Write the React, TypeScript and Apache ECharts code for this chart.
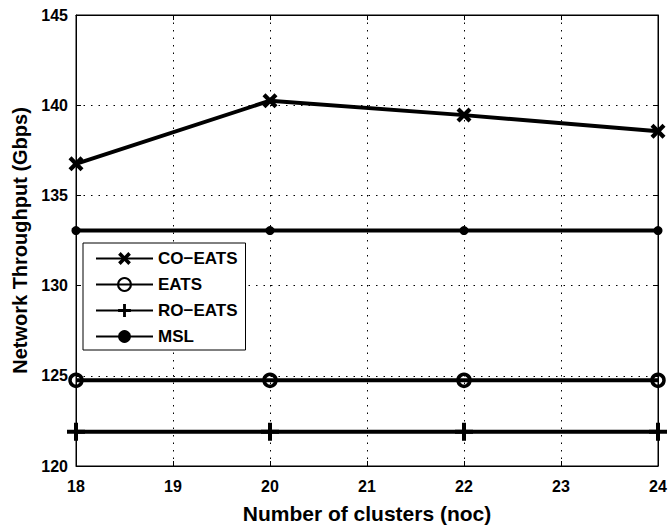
import React, { useEffect, useRef } from "react";
import * as echarts from "echarts";

const clusters = [18, 20, 22, 24];
const coEats = [136.75, 140.25, 139.45, 138.55];
const eats = [124.75, 124.75, 124.75, 124.75];
const roEats = [121.9, 121.9, 121.9, 121.9];
const msl = [133.05, 133.05, 133.05, 133.05];
const seriesNames = ["CO\u2212EATS", "EATS", "RO\u2212EATS", "MSL"];

const FONT = "'Liberation Sans', Arial, Helvetica, sans-serif";
const crossPath =
  "path://M2,0 L5,3 L8,0 L10,2 L7,5 L10,8 L8,10 L5,7 L2,10 L0,8 L3,5 L0,2 Z";
const plusPath =
  "path://M0,7 H7 V0 H11 V7 H18 V11 H11 V18 H7 V11 H0 Z";

function pairs(ys: number[]) {
  return clusters.map((x, i) => [x, ys[i]]);
}

export default function App() {
  const ref = useRef<HTMLDivElement>(null);
  useEffect(() => {
    if (!ref.current) return;
    const chart = echarts.init(ref.current, undefined, { renderer: "svg" });
    const lineStyle = { color: "#000", width: 4 };
    const common = {
      type: "line",
      clip: false,
      lineStyle,
      showSymbol: true,
      z: 3,
    };
    const splitStyle = { color: "#000", width: 1, type: [1.5, 6] };
    chart.setOption({
      animation: false,
      backgroundColor: "#fff",
      grid: {
        left: 76,
        right: 12,
        top: 15,
        bottom: 57,
        show: true,
        borderColor: "#000",
        borderWidth: 1,
      },
      legend: {
        orient: "vertical",
        left: 83,
        top: 243,
        width: 162,
        padding: [7, 8, 5, 12],
        itemGap: 9,
        itemWidth: 57,
        itemHeight: 16,
        backgroundColor: "#fff",
        borderColor: "#000",
        borderWidth: 1,
        textStyle: { fontFamily: FONT, fontWeight: "bold", fontSize: 17, color: "#000" },
        data: seriesNames,
      },
      xAxis: [
        {
          type: "value",
          min: 18,
          max: 24,
          interval: 1,
          name: "Number of clusters (noc)",
          nameLocation: "middle",
          nameGap: 37,
          nameTextStyle: { fontFamily: FONT, fontWeight: "bold", fontSize: 21, color: "#000" },
          axisLine: { lineStyle: { color: "#000", width: 1 } },
          axisTick: { inside: true, length: 5, lineStyle: { color: "#000" } },
          axisLabel: { fontFamily: FONT, fontWeight: "bold", fontSize: 16, color: "#000", margin: 12 },
          splitLine: { show: true, lineStyle: splitStyle },
        },
        {
          type: "value",
          position: "top",
          min: 18,
          max: 24,
          interval: 1,
          axisLine: { lineStyle: { color: "#000", width: 1 } },
          axisTick: { inside: true, length: 5, lineStyle: { color: "#000" } },
          axisLabel: { show: false },
          splitLine: { show: false },
        },
      ],
      yAxis: [
        {
          type: "value",
          min: 120,
          max: 145,
          interval: 5,
          name: "Network Throughput (Gbps)",
          nameLocation: "middle",
          nameGap: 40,
          nameTextStyle: { fontFamily: FONT, fontWeight: "bold", fontSize: 20, color: "#000" },
          axisLine: { show: true, lineStyle: { color: "#000", width: 1 } },
          axisTick: { show: true, inside: true, length: 5, lineStyle: { color: "#000" } },
          axisLabel: { fontFamily: FONT, fontWeight: "bold", fontSize: 16, color: "#000", margin: 8 },
          splitLine: { show: true, lineStyle: splitStyle },
        },
        {
          type: "value",
          position: "right",
          min: 120,
          max: 145,
          interval: 5,
          axisLine: { show: true, lineStyle: { color: "#000", width: 1 } },
          axisTick: { show: true, inside: true, length: 5, lineStyle: { color: "#000" } },
          axisLabel: { show: false },
          splitLine: { show: false },
        },
      ],
      series: [
        {
          ...common,
          name: seriesNames[0],
          data: pairs(coEats),
          symbol: crossPath,
          symbolSize: 15,
          itemStyle: { color: "#000" },
        },
        {
          ...common,
          name: seriesNames[1],
          data: pairs(eats),
          symbol: "circle",
          symbolSize: 12,
          itemStyle: { color: "rgba(255,255,255,0)", borderColor: "#000", borderWidth: 3.5 },
        },
        {
          ...common,
          name: seriesNames[2],
          data: pairs(roEats),
          symbol: plusPath,
          symbolSize: 18,
          itemStyle: { color: "#000" },
        },
        {
          ...common,
          name: seriesNames[3],
          data: pairs(msl),
          symbol: "circle",
          symbolSize: 9,
          itemStyle: { color: "#000" },
        },
      ],
    });
    return () => chart.dispose();
  }, []);
  return (
    <div
      ref={ref}
      style={{ position: "fixed", left: 0, top: 0, width: 670, height: 529, background: "#fff" }}
    />
  );
}
